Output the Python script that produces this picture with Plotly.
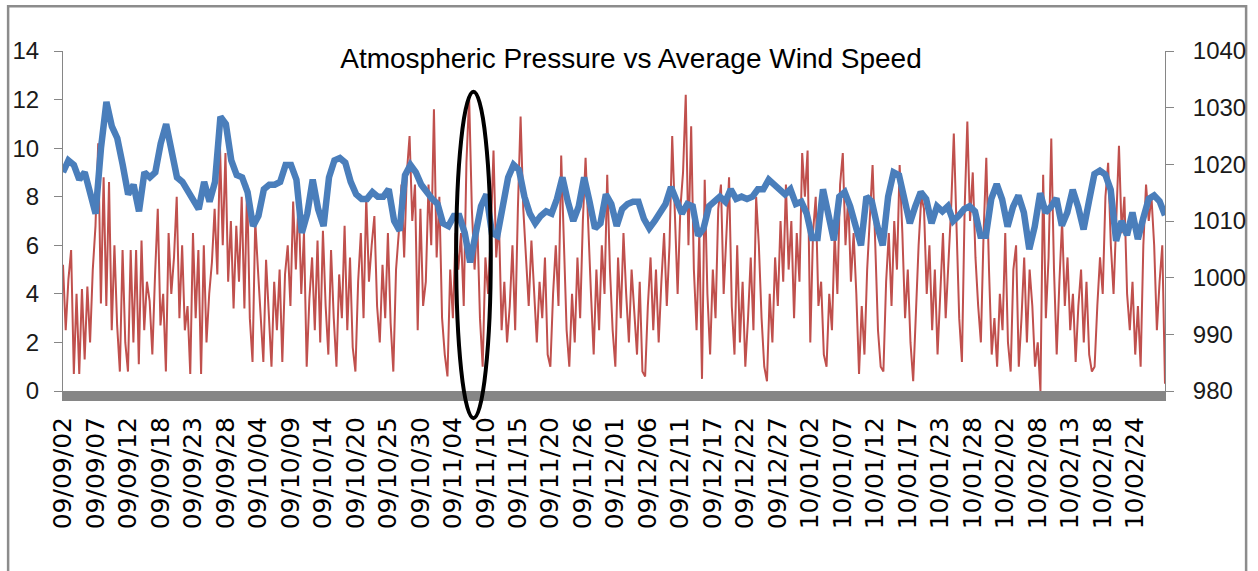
import numpy as np
import plotly.graph_objects as go

# ---------------- data ----------------
date_labels = [
    "09/09/02", "09/09/07", "09/09/12", "09/09/18", "09/09/23", "09/09/28",
    "09/10/04", "09/10/09", "09/10/14", "09/10/20", "09/10/25", "09/10/30",
    "09/11/04", "09/11/10", "09/11/15", "09/11/20", "09/11/26",
    "09/12/01", "09/12/06", "09/12/11", "09/12/17", "09/12/22", "09/12/27",
    "10/01/02", "10/01/07", "10/01/12", "10/01/17", "10/01/23", "10/01/28",
    "10/02/02", "10/02/08", "10/02/13", "10/02/18", "10/02/24",
]

# average wind speed (left axis)
wind_speed = [
    5.2, 2.5, 4.6, 5.8, 0.7, 4.0, 0.7, 4.2, 1.3, 4.3,
    2.0, 5.0, 6.8, 10.2, 3.6, 8.8, 3.5, 8.6, 2.5, 6.0,
    2.7, 0.8, 5.8, 2.0, 0.8, 5.8, 2.0, 5.8, 1.1, 6.2,
    2.5, 4.5, 3.7, 1.5, 4.8, 7.5, 2.7, 4.0, 0.8, 6.5,
    4.0, 5.5, 8.0, 3.0, 6.0, 2.5, 3.5, 0.7, 6.5, 3.0,
    5.8, 0.7, 6.0, 2.0, 4.0, 5.3, 7.5, 4.8, 10.0, 6.0,
    9.8, 4.5, 7.0, 3.4, 6.8, 4.5, 8.0, 3.4, 8.5, 3.0,
    1.2, 7.0, 5.0, 3.0, 1.2, 5.4, 3.0, 1.0, 4.5, 2.5,
    5.0, 1.2, 4.8, 6.0, 3.5, 7.8, 5.0, 8.0, 4.0, 6.5,
    1.0, 3.8, 5.5, 2.5, 6.2, 2.0, 6.6, 3.5, 1.5, 5.8,
    3.0, 1.0, 4.8, 3.0, 6.8, 2.5, 5.5, 1.8, 0.8, 4.5,
    6.5, 3.0, 8.0, 4.5, 6.0, 7.2, 3.5, 2.0, 5.2, 3.0,
    6.5, 2.8, 0.8, 5.0, 6.5, 8.5, 5.5, 9.0, 10.5, 7.0,
    8.5, 2.5, 7.5, 3.5, 4.5, 8.5, 6.0, 11.6, 5.5, 8.0,
    3.0, 1.5, 0.6, 5.0, 3.0, 6.5, 5.0, 6.5, 3.5, 9.4,
    12.1, 7.5, 5.0, 7.0, 3.0, 1.0, 5.5, 4.0, 6.5, 9.9,
    5.5, 7.0, 2.5, 4.5, 2.0, 3.5, 6.0, 2.5, 7.5, 11.3,
    7.5, 5.5, 3.5, 6.2, 4.0, 2.0, 4.5, 3.0, 5.5, 1.5,
    1.0, 4.0, 6.0, 3.5, 9.7, 6.0, 2.5, 1.0, 4.0, 2.0,
    5.5, 3.0, 7.0, 9.6, 6.5, 4.0, 1.5, 5.0, 2.5, 6.0,
    4.0, 8.9, 5.0, 2.5, 1.0, 5.5, 3.0, 6.5, 4.0, 2.0,
    5.0, 3.0, 1.5, 4.5, 0.8, 0.6, 3.5, 5.5, 2.5, 5.0,
    2.0, 4.5, 6.5, 3.5, 6.0, 10.5, 7.0, 4.0, 7.5, 9.0,
    12.2, 6.0, 10.9, 5.0, 2.5, 6.5, 0.5, 8.7, 4.0, 1.5,
    5.0, 3.0, 7.5, 8.5, 4.0, 6.5, 8.8, 3.5, 1.5, 6.0,
    2.0, 4.5, 1.0, 3.0, 5.5, 2.5, 8.0, 6.0, 3.0, 1.0,
    0.4, 4.0, 2.0, 5.5, 3.5, 7.0, 4.5, 8.5, 5.0, 7.0,
    3.0, 6.5, 4.5, 9.8, 8.0, 9.9, 2.0, 6.5, 8.0, 3.5,
    4.5, 1.5, 1.0, 4.0, 2.5, 6.5, 4.0, 8.5, 9.8, 6.0,
    8.0, 4.5, 6.5, 4.0, 0.7, 3.5, 1.5, 5.0, 7.0, 9.3,
    6.0, 2.5, 1.0, 0.8, 4.5, 6.5, 3.5, 7.0, 5.0, 9.3,
    6.5, 3.0, 5.0, 2.0, 0.4, 3.5, 6.0, 8.0, 7.5, 4.0,
    6.0, 2.5, 5.0, 1.5, 4.0, 6.5, 3.0, 5.0, 7.5, 10.6,
    6.5, 3.0, 1.2, 7.5, 11.1, 7.0, 9.0, 5.5, 3.5, 2.0,
    6.5, 9.6, 5.0, 1.5, 3.0, 1.0, 4.0, 2.5, 6.5, 2.0,
    0.8, 5.0, 6.0, 1.0, 3.0, 5.5, 2.0, 5.0, 3.5, 1.0,
    2.0, 0.0, 8.9, 3.0, 5.5, 10.4, 5.0, 1.5, 4.5, 7.0,
    3.5, 5.5, 2.5, 4.0, 1.2, 3.5, 5.0, 2.0, 4.5, 1.5,
    0.8, 1.0, 3.5, 5.5, 4.0, 8.0, 9.4, 6.0, 4.0, 7.0,
    10.1, 6.5, 8.0, 4.0, 2.5, 4.5, 1.5, 3.5, 1.0, 6.0,
    8.5, 7.0, 8.0, 6.0, 2.5, 4.5, 6.0, 0.3,
]

# atmospheric pressure in hPa (right axis)
pressure = [
    1018.6, 1020.7, 1019.9, 1017.3, 1018.6, 1015.1, 1011.3, 1022.9, 1031.0, 1026.7,
    1024.6, 1019.9, 1014.7, 1016.4, 1011.7, 1018.6, 1017.7, 1018.6, 1023.7, 1027.1,
    1022.0, 1017.7, 1016.9, 1015.1, 1013.4, 1012.1, 1016.9, 1013.4, 1016.9, 1028.4,
    1027.1, 1020.7, 1018.1, 1017.7, 1015.1, 1009.1, 1010.9, 1015.6, 1016.4, 1016.4,
    1016.9, 1019.9, 1019.9, 1017.3, 1007.9, 1011.3, 1017.3, 1012.1, 1009.1, 1017.7,
    1020.7, 1021.1, 1020.3, 1016.9, 1014.7, 1013.9, 1013.9, 1015.1, 1014.3, 1014.3,
    1015.6, 1010.0, 1008.3, 1018.1, 1019.9, 1018.6, 1016.4, 1015.1, 1013.9, 1013.0,
    1009.6, 1009.1, 1010.9, 1010.9, 1007.9, 1002.7, 1007.0, 1012.6, 1014.7, 1007.9,
    1007.4, 1013.4, 1017.7, 1019.9, 1019.0, 1014.3, 1011.3, 1009.6, 1010.9, 1011.7,
    1011.3, 1013.9, 1017.7, 1013.4, 1010.0, 1012.6, 1017.7, 1013.4, 1008.7, 1009.6,
    1014.7, 1013.0, 1009.1, 1012.1, 1013.0, 1013.4, 1013.4, 1010.4, 1008.7, 1010.0,
    1011.7, 1013.0, 1016.0, 1013.9, 1011.3, 1013.0, 1012.6, 1007.4, 1008.7, 1012.6,
    1013.4, 1014.3, 1013.4, 1015.6, 1013.9, 1014.3, 1013.9, 1014.3, 1015.6, 1015.6,
    1017.3, 1016.4, 1015.6, 1014.7, 1015.6, 1013.0, 1013.4, 1011.3, 1007.0, 1007.0,
    1015.6, 1011.7, 1006.6, 1014.3, 1015.1, 1012.6, 1008.7, 1005.7, 1014.3, 1013.4,
    1009.1, 1005.7, 1014.3, 1018.6, 1018.1, 1013.4, 1009.6, 1012.6, 1015.1, 1013.9,
    1009.6, 1012.6, 1011.7, 1012.6, 1010.0, 1010.9, 1012.1, 1012.6, 1011.7, 1007.4,
    1007.4, 1013.9, 1016.5, 1013.8, 1009.0, 1012.5, 1014.5, 1011.5, 1005.0, 1009.0,
    1014.9, 1011.5, 1012.5, 1014.0, 1009.2, 1011.5, 1015.5, 1012.5, 1008.5, 1013.5,
    1018.3, 1018.9, 1018.2, 1015.5, 1006.5, 1010.0, 1007.5, 1011.5, 1006.8, 1010.5,
    1013.9, 1014.5, 1013.5, 1011.0,
]

# ---------------- positions ----------------
n_wind = len(wind_speed)
x_wind = np.arange(n_wind)
x_press = np.linspace(0, n_wind - 1, len(pressure))
label_step = 12
tick_pos = [i * label_step for i in range(len(date_labels))]

# highlighted period (ellipse), in sample-index units
highlight_center = 151.6
highlight_halfwidth = 6.4

AXIS_GREY = "#868686"

fig = go.Figure()
fig.add_trace(go.Scatter(
    x=x_wind, y=wind_speed, mode="lines",
    line=dict(color="#C0504D", width=2),
    name="Average Wind Speed", yaxis="y",
))
fig.add_trace(go.Scatter(
    x=x_press, y=pressure, mode="lines",
    line=dict(color="#4A7EBB", width=6.5),
    name="Atmospheric Pressure", yaxis="y2",
))

fig.add_shape(
    type="circle", xref="x", yref="paper",
    x0=highlight_center - highlight_halfwidth, x1=highlight_center + highlight_halfwidth,
    y0=-0.08, y1=0.88,
    line=dict(color="black", width=4),
)
# chart border
fig.add_shape(
    type="rect", xref="paper", yref="paper",
    x0=-0.0498, x1=1.0736, y0=-0.6, y1=1.1315,
    line=dict(color="#8C8C8C", width=2.5), layer="below",
)

fig.update_layout(
    width=1258, height=571,
    margin=dict(l=63, r=85, t=51, b=180, pad=0),
    paper_bgcolor="white", plot_bgcolor="white",
    showlegend=False,
    title=dict(
        text="Atmospheric Pressure vs Average Wind Speed",
        x=631 / 1258, xanchor="center", xref="container",
        y=1 - 58 / 571, yanchor="middle", yref="container",
        font=dict(family="Liberation Sans, Arial, sans-serif", size=28, color="black"),
    ),
    xaxis=dict(
        range=[0, n_wind - 1],
        tickmode="array", tickvals=tick_pos, ticktext=date_labels,
        tickangle=-90,
        tickfont=dict(family="DejaVu Sans, Verdana, sans-serif", size=25, color="black"),
        showline=True, linecolor=AXIS_GREY, linewidth=10,
        ticks="", showgrid=False, zeroline=False,
        ticklabelstandoff=6,
    ),
    yaxis=dict(
        range=[0, 14], dtick=2, tick0=0,
        ticks="outside", ticklen=8, tickcolor=AXIS_GREY, tickwidth=1,
        showline=True, linecolor=AXIS_GREY, linewidth=1,
        showgrid=False, zeroline=False,
        tickfont=dict(family="Liberation Sans, Arial, sans-serif", size=24, color="#1a1a1a"),
        ticklabelstandoff=10,
    ),
    yaxis2=dict(
        range=[980, 1040], dtick=10, tick0=980,
        overlaying="y", side="right",
        ticks="outside", ticklen=8, tickcolor=AXIS_GREY, tickwidth=1,
        showline=True, linecolor=AXIS_GREY, linewidth=1,
        showgrid=False, zeroline=False,
        tickfont=dict(family="Liberation Sans, Arial, sans-serif", size=24, color="#1a1a1a"),
        ticklabelstandoff=14,
    ),
)

fig.write_html("out.html")
